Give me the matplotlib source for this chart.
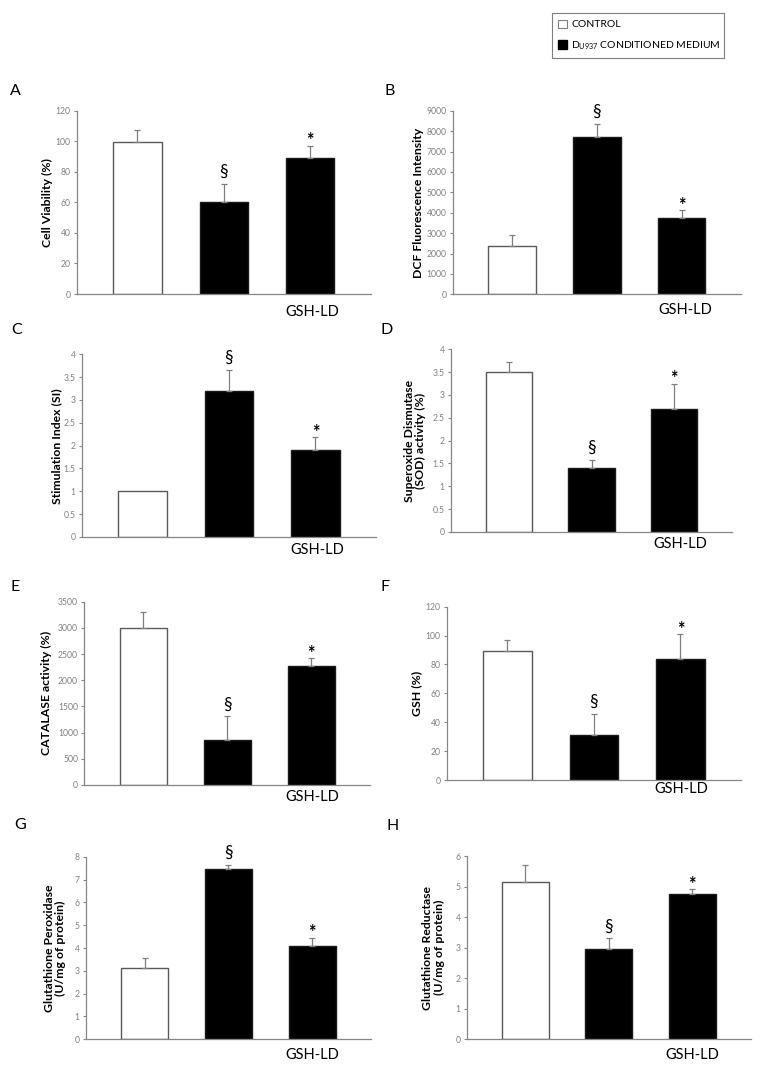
import numpy as np
import matplotlib
matplotlib.use("Agg")
import matplotlib.pyplot as plt
from matplotlib.patches import Patch

# ---------------- data ----------------
letters = ["A", "B", "C", "D", "E", "F", "G", "H"]
ylabels = ["Cell Viability (%)",
           "DCF Fluorescence Intensity",
           "Stimulation Index (SI)",
           "Superoxide Dismutase\n(SOD) activity (%)",
           "CATALASE activity (%)",
           "GSH (%)",
           "Glutathione Peroxidase\n(U/mg of protein)",
           "Glutathione Reductase\n(U/mg of protein)"]
vals_A = [99.5, 60, 89];       err_A = [8, 12, 8]
vals_B = [2350, 7700, 3760];   err_B = [550, 650, 360]
vals_C = [1.0, 3.2, 1.9];      err_C = [0, 0.45, 0.28]
vals_D = [3.5, 1.4, 2.7];      err_D = [0.23, 0.17, 0.55]
vals_E = [2990, 865, 2280];    err_E = [320, 445, 140]
vals_F = [89, 31.5, 84];       err_F = [8, 14, 17]
vals_G = [3.12, 7.48, 4.1];    err_G = [0.43, 0.17, 0.36]
vals_H = [5.14, 2.97, 4.76];   err_H = [0.55, 0.33, 0.15]
values = [vals_A, vals_B, vals_C, vals_D, vals_E, vals_F, vals_G, vals_H]
errors = [err_A, err_B, err_C, err_D, err_E, err_F, err_G, err_H]
ymax = [120, 9000, 4, 4, 3500, 120, 8, 6]
ystep = [20, 1000, 0.5, 0.5, 500, 20, 1, 1]
marks = ["", "\u00a7", "*"]
group_label = "GSH-LD"
legend_labels = ["CONTROL", "D$_{U937}$ CONDITIONED MEDIUM"]

# ---------------- layout (pixels) ----------------
W, H = 763, 1076
# left, right, top(ymax), bottom(0)
boxes = [(77, 370.7, 110.7, 294), (452.7, 741, 110.7, 294.4),
         (81.7, 376, 354.3, 537), (451, 732, 349.3, 532),
         (84.3, 370, 601.7, 785), (446.7, 741, 606.7, 780),
         (86, 370.7, 856.7, 1039.3), (466.7, 750.7, 856, 1039.3)]
letter_pos = [(15, 91), (390, 91), (17, 330), (387, 330),
              (15, 587), (385, 587), (20, 825), (393, 826)]
ylabel_x = [47.7, 418.3, 56.5, 415, 46.7, 416.7, 55, 433.3]
gsh_off = [(2, 18), (4, 16), (2, 13), (6, 11.7), (1, 12), (1, 9), (0, 16), (0, 16)]

plt.rcParams["font.family"] = ["Lato", "DejaVu Sans"]
plt.rcParams["mathtext.fontset"] = "custom"
plt.rcParams["mathtext.rm"] = "Lato"
plt.rcParams["mathtext.default"] = "regular"

GREY = "#868686"
fig = plt.figure(figsize=(W / 100, H / 100), dpi=100)

x = np.arange(3)
for i in range(8):
    l, r, t, b = boxes[i]
    ax = fig.add_axes([l / W, 1 - b / H, (r - l) / W, (b - t) / H])
    v = values[i]
    e = errors[i]
    ax.bar(x, v, width=0.56, color=["white", "black", "black"],
           edgecolor=["#595959", "#1a1a1a", "#1a1a1a"], linewidth=1.0, zorder=2)
    for xi, vi, ei in zip(x, v, e):
        if ei > 0:
            ax.errorbar(xi, vi, yerr=[[0], [ei]], fmt="none", ecolor="#7f7f7f",
                        elinewidth=0.9, capsize=2.5, capthick=0.9, zorder=3)
    for xi, vi, ei, m in zip(x, v, e, marks):
        if m:
            if m == "*":
                ax.annotate(m, xy=(xi, vi + ei), xytext=(0, 5), textcoords="offset pixels",
                            ha="center", va="center", fontsize=13, fontweight="bold")
            else:
                ax.annotate(m, xy=(xi, vi + ei), xytext=(0, 12), textcoords="offset pixels",
                            ha="center", va="center", fontsize=12.5)
    ax.set_xlim(-0.7, 2.7)
    ax.set_ylim(0, ymax[i])
    ticks = np.arange(0, ymax[i] + ystep[i] / 2, ystep[i])
    ax.set_yticks(ticks)
    ax.set_yticklabels(["{:g}".format(tk) for tk in ticks])
    ax.set_xticks([])
    for s in ["top", "right"]:
        ax.spines[s].set_visible(False)
    for s in ["left", "bottom"]:
        ax.spines[s].set_color(GREY)
        ax.spines[s].set_linewidth(0.9)
    ax.tick_params(axis="y", length=2.5, width=0.8, color=GREY, labelsize=6.2,
                   labelcolor="#808080", pad=2)
    dx, dy = gsh_off[i]
    ax.annotate(group_label, xy=(2, 0), xycoords=("data", "axes fraction"),
                xytext=(dx, -dy), textcoords="offset pixels",
                ha="center", va="center", fontsize=10.5)
    fig.text(ylabel_x[i] / W, 1 - ((t + b) / 2) / H, ylabels[i], rotation=90,
             ha="center", va="center", fontsize=8.8, fontweight="bold",
             linespacing=1.1, multialignment="center")
    lx, ly = letter_pos[i]
    fig.text(lx / W, 1 - ly / H, letters[i], ha="center", va="center", fontsize=11.5)

handles = [Patch(facecolor="white", edgecolor="#7f7f7f", linewidth=0.8),
           Patch(facecolor="black", edgecolor="black")]
lx0, lx1, ly0, ly1 = 551.7, 724.3, 13.3, 56.7
leg = fig.legend(handles=handles, labels=legend_labels, loc="upper left",
                 bbox_to_anchor=(lx0 / W, 1 - ly1 / H, (lx1 - lx0) / W, (ly1 - ly0) / H),
                 mode="expand", borderaxespad=0, fancybox=False, edgecolor="#7f7f7f",
                 framealpha=1, fontsize=7.5, handlelength=0.9, handleheight=0.9,
                 handletextpad=0.4, labelspacing=0.95, borderpad=0.6)
leg.get_frame().set_linewidth(0.8)

fig.savefig("out.png", dpi=100)
